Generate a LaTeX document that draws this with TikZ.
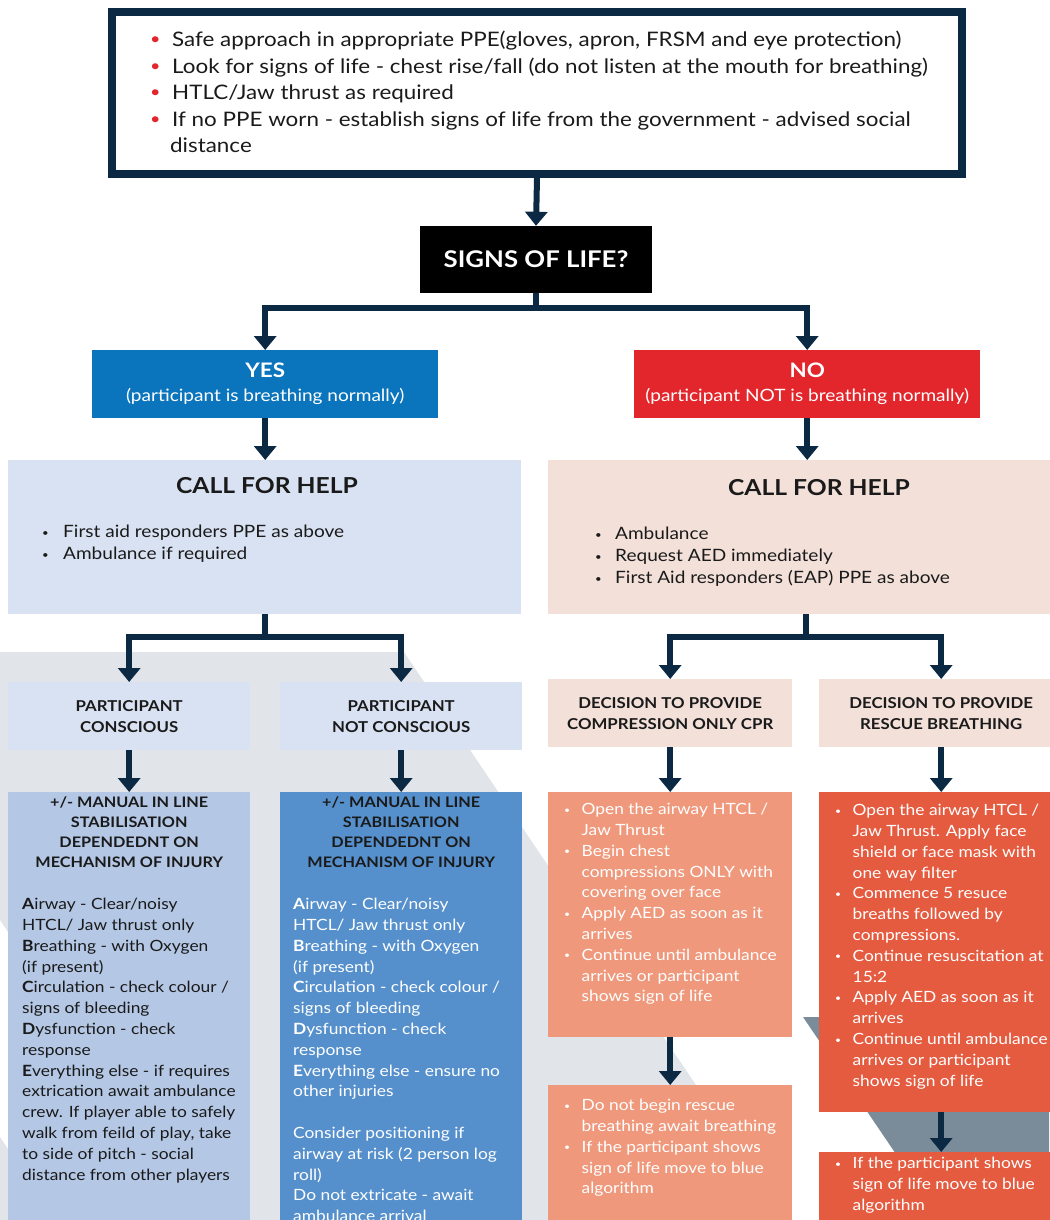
\documentclass[tikz,border=0pt]{standalone}
\usepackage{fontspec}
\setmainfont{Lato}[FakeStretch=1.12]
\usetikzlibrary{arrows.meta,positioning}
\definecolor{navy}{HTML}{0B2943}
\definecolor{yesblue}{HTML}{0A74BC}
\definecolor{nored}{HTML}{E3262B}
\definecolor{paleblue}{HTML}{D9E2F2}
\definecolor{palepeach}{HTML}{F2E0D9}
\definecolor{midblue}{HTML}{B4C7E5}
\definecolor{deepblue}{HTML}{5590CC}
\definecolor{salmon}{HTML}{EF987B}
\definecolor{tomato}{HTML}{E55B40}
\definecolor{bggrey}{HTML}{E1E5E9}
\definecolor{slate}{HTML}{7A8C9A}
\definecolor{ink}{HTML}{1A1A1A}
\newcommand{\bul}[3][0.6]{\makebox[#2][l]{\textcolor{#3}{\raisebox{0.18ex}{\scalebox{#1}{\textbullet}}}}}
\newcommand{\cont}[1]{\hspace*{#1}}

\begin{document}
\begin{tikzpicture}[x=1pt, y=-1pt,
    arrowline/.style={draw=navy, line width=6pt, -{Triangle[width=22pt,length=14pt]}},
    forkline/.style={draw=navy, line width=6pt},
    box/.style={rectangle, inner sep=0pt, anchor=north west},
    txt/.style={inner sep=0pt, anchor=north west, align=left},
    headtxt/.style={inner sep=0pt, anchor=north, align=center, text=ink,
      font=\fontsize{14.5}{19.7}\selectfont\bfseries},
    bodytxt/.style={txt, font=\fontsize{15.5}{20.8}\selectfont}]
  \useasboundingbox (0,0) rectangle (1049,1220);

  % background stripes
  \fill[bggrey] (0,652) -- (404,652) -- (787,1220) -- (201,1220) -- (0,920) -- cycle;
  \fill[bggrey] (0,1137) -- (56,1220) -- (0,1220) -- cycle;
  \fill[slate] (803,1017) -- (1049,1017) -- (1049,1160) -- (900,1160) -- cycle;

  % top box
  \node[draw=navy, line width=8pt, minimum width=850pt, minimum height=162pt, inner sep=0pt] (safety) at (537,93) {};
  \node[txt, text=ink, font=\fontsize{20}{26.5}\selectfont] (safetytext) at (150,31)
    {\bul[0.8]{22pt}{nored}Safe approach in appropriate PPE(gloves, apron, FRSM and eye protection)\\
     \bul[0.8]{22pt}{nored}Look for signs of life - chest rise/fall (do not listen at the mouth for breathing)\\
     \bul[0.8]{22pt}{nored}HTLC/Jaw thrust as required\\
     \bul[0.8]{22pt}{nored}If no PPE worn - establish signs of life from the government - advised social\\
     \cont{20pt}distance};

  \node[fill=black, text=white, minimum width=232pt, minimum height=67pt, inner sep=0pt,
    font=\fontsize{23}{26}\selectfont\bfseries] (signs) at (536,259.5) {SIGNS OF LIFE?};

  \node[box, fill=yesblue, text=white, minimum width=346pt, minimum height=68pt, align=center,
    font=\fontsize{17}{24}\selectfont] (yes) at (92,350)
    {{\fontsize{20}{20}\selectfont\bfseries YES}\\(participant is breathing normally)};
  \node[box, fill=nored, text=white, minimum width=346pt, minimum height=68pt, align=center,
    font=\fontsize{17}{24}\selectfont] (no) at (634,350)
    {{\fontsize{20}{20}\selectfont\bfseries NO}\\(participant NOT is breathing normally)};

  % call for help
  \node[box, fill=paleblue, minimum width=513pt, minimum height=154pt] (helpyes) at (8,460) {};
  \node[box, fill=palepeach, minimum width=513pt, minimum height=154pt] (helpno) at (548,460) {};
  \node[inner sep=0pt, anchor=north, text=ink, font=\fontsize{22}{26}\selectfont\bfseries] (helpyestitle)
    at (267,477) {CALL FOR HELP};
  \node[inner sep=0pt, anchor=north, text=ink, font=\fontsize{22}{26}\selectfont\bfseries] (helpnotitle)
    at (819,479) {CALL FOR HELP};
  \node[txt, text=ink, font=\fontsize{17}{22}\selectfont] (helpyestext) at (42,525)
    {\bul{21pt}{ink}First aid responders PPE as above\\
     \bul{21pt}{ink}Ambulance if required};
  \node[txt, text=ink, font=\fontsize{17}{22}\selectfont] (helpnotext) at (595,527)
    {\bul{20pt}{ink}Ambulance\\
     \bul{20pt}{ink}Request AED immediately\\
     \bul{20pt}{ink}First Aid responders (EAP) PPE as above};

  % second level
  \node[box, fill=paleblue, minimum width=242pt, minimum height=68pt, align=center, text=ink,
    font=\fontsize{15}{21}\selectfont\bfseries] (consc) at (8,682) {PARTICIPANT\\CONSCIOUS};
  \node[box, fill=paleblue, minimum width=242pt, minimum height=68pt, align=center, text=ink,
    font=\fontsize{15}{21}\selectfont\bfseries] (notconsc) at (280,682) {PARTICIPANT\\NOT CONSCIOUS};
  \node[box, fill=palepeach, minimum width=244pt, minimum height=68pt, align=center, text=ink,
    font=\fontsize{15}{21}\selectfont\bfseries] (compr) at (548,679) {DECISION TO PROVIDE\\COMPRESSION ONLY CPR};
  \node[box, fill=palepeach, minimum width=244pt, minimum height=68pt, align=center, text=ink,
    font=\fontsize{15}{21}\selectfont\bfseries] (rescue) at (819,679) {DECISION TO PROVIDE\\RESCUE BREATHING};

  % third level
  \node[box, fill=midblue, minimum width=242pt, minimum height=440pt] (abcdeyes) at (8,792) {};
  \node[box, fill=deepblue, minimum width=242pt, minimum height=440pt] (abcdeno) at (280,792) {};
  \node[box, fill=salmon, minimum width=244pt, minimum height=245pt] (comprsteps) at (548,792) {};
  \node[box, fill=tomato, minimum width=244pt, minimum height=320pt] (rescuesteps) at (819,792) {};
  \node[box, fill=salmon, minimum width=244pt, minimum height=140pt] (comprlast) at (548,1085) {};
  \node[box, fill=tomato, minimum width=244pt, minimum height=80pt] (rescuelast) at (819,1152) {};

  \node[headtxt, below=5pt of abcdeyes.north] (abcdeyeshead)
    {+/- MANUAL IN LINE\\STABILISATION\\DEPENDEDNT ON\\MECHANISM OF INJURY};
  \node[headtxt, below=5pt of abcdeno.north] (abcdenohead)
    {+/- MANUAL IN LINE\\STABILISATION\\DEPENDEDNT ON\\MECHANISM OF INJURY};
  \node[bodytxt, text=ink, below right=106pt and 14pt of abcdeyes.north west] (abcdeyestext)
    {\textbf{A}irway - Clear/noisy\\
     HTCL/ Jaw thrust only\\
     \textbf{B}reathing - with Oxygen\\
     (if present)\\
     \textbf{C}irculation - check colour /\\
     signs of bleeding\\
     \textbf{D}ysfunction - check\\
     response\\
     \textbf{E}verything else - if requires\\
     extrication await ambulance\\
     crew. If player able to safely\\
     walk from feild of play, take\\
     to side of pitch - social\\
     distance from other players};
  \node[bodytxt, text=white, below right=106pt and 13pt of abcdeno.north west] (abcdenotext)
    {\textbf{A}irway - Clear/noisy\\
     HTCL/ Jaw thrust only\\
     \textbf{B}reathing - with Oxygen\\
     (if present)\\
     \textbf{C}irculation - check colour /\\
     signs of bleeding\\
     \textbf{D}ysfunction - check\\
     response\\
     \textbf{E}verything else - ensure no\\
     other injuries\\[20.8pt]
     Consider positioning if\\
     airway at risk (2 person log\\
     roll)\\
     Do not extricate - await\\
     ambulance arrival};

  \node[bodytxt, text=white, below right=11pt and 16pt of comprsteps.north west] (comprstepstext)
    {\bul{17.5pt}{white}Open the airway HTCL /\\
     \cont{17.5pt}Jaw Thrust\\
     \bul{17.5pt}{white}Begin chest\\
     \cont{17.5pt}compressions ONLY with\\
     \cont{17.5pt}covering over face\\
     \bul{17.5pt}{white}Apply AED as soon as it\\
     \cont{17.5pt}arrives\\
     \bul{17.5pt}{white}Continue until ambulance\\
     \cont{17.5pt}arrives or participant\\
     \cont{17.5pt}shows sign of life};
  \node[bodytxt, text=white, below right=14pt and 16pt of comprlast.north west] (comprlasttext)
    {\bul{17.5pt}{white}Do not begin rescue\\
     \cont{17.5pt}breathing await breathing\\
     \bul{17.5pt}{white}If the participant shows\\
     \cont{17.5pt}sign of life move to blue\\
     \cont{17.5pt}algorithm};
  \node[bodytxt, text=white, below right=12pt and 16pt of rescuesteps.north west] (rescuestepstext)
    {\bul{17.5pt}{white}Open the airway HTCL /\\
     \cont{17.5pt}Jaw Thrust. Apply face\\
     \cont{17.5pt}shield or face mask with\\
     \cont{17.5pt}one way filter\\
     \bul{17.5pt}{white}Commence 5 resuce\\
     \cont{17.5pt}breaths followed by\\
     \cont{17.5pt}compressions.\\
     \bul{17.5pt}{white}Continue resuscitation at\\
     \cont{17.5pt}15:2\\
     \bul{17.5pt}{white}Apply AED as soon as it\\
     \cont{17.5pt}arrives\\
     \bul{17.5pt}{white}Continue until ambulance\\
     \cont{17.5pt}arrives or participant\\
     \cont{17.5pt}shows sign of life};
  \node[bodytxt, text=white, below right=5pt and 16pt of rescuelast.north west] (rescuelasttext)
    {\bul{17.5pt}{white}If the participant shows\\
     \cont{17.5pt}sign of life move to blue\\
     \cont{17.5pt}algorithm};

  % connectors
  \coordinate (signsfork) at (536,308);
  \coordinate (yesfork) at (265,637);
  \coordinate (nofork) at (806,637);
  \draw[arrowline] (safety.south) -- (signs.north);
  \draw[forkline] (signs.south) -- (signsfork);
  \draw[arrowline] (signsfork) -| (yes.north);
  \draw[arrowline] (signsfork) -| (no.north);
  \draw[arrowline] (yes.south) -- (yes.south |- helpyes.north);
  \draw[arrowline] (no.south) -- (no.south |- helpno.north);
  \draw[forkline] (helpyes.south -| yesfork) -- (yesfork);
  \draw[arrowline] (yesfork) -| (consc.north);
  \draw[arrowline] (yesfork) -| (notconsc.north);
  \draw[forkline] (helpno.south -| nofork) -- (nofork);
  \draw[arrowline] (nofork) -| (compr.north);
  \draw[arrowline] (nofork) -| (rescue.north);
  \draw[arrowline] (consc.south) -- (abcdeyes.north);
  \draw[arrowline] (notconsc.south) -- (abcdeno.north);
  \draw[arrowline] (compr.south) -- (comprsteps.north);
  \draw[arrowline] (rescue.south) -- (rescuesteps.north);
  \draw[arrowline] (comprsteps.south) -- (comprlast.north);
  \draw[arrowline] (rescuesteps.south) -- (rescuelast.north);
\end{tikzpicture}
\end{document}
